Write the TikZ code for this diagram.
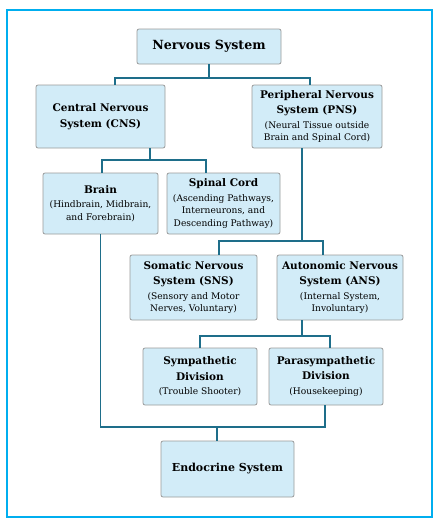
\documentclass[tikz,border=0pt]{standalone}
\usepackage{fontspec}
\setmainfont{DejaVu Serif}
\definecolor{frame}{HTML}{00AEEF}
\definecolor{conncol}{HTML}{1E6E8A}
\definecolor{boxfill}{HTML}{D2ECF8}
\definecolor{boxline}{HTML}{9A9A9A}
\newcommand{\ttl}{\fontsize{10.5}{12.3}\selectfont\bfseries}
\newcommand{\bigttl}{\fontsize{12.6}{14}\selectfont\bfseries}
\newcommand{\subt}{\fontsize{9.1}{12.3}\selectfont}
\tikzset{
  box/.style={draw=boxline, fill=boxfill, rounded corners=2pt, line width=0.8pt,
    inner sep=0pt, align=center, anchor=center, font=\fontsize{9.1}{12.3}\selectfont},
  conn/.style={draw=conncol, line width=1.6pt},
}
\begin{document}
\begin{tikzpicture}[x=1pt,y=-1pt]
\useasboundingbox (0,0) rectangle (439,525);
\draw[frame, line width=2pt] (7,10) rectangle (432,517);

\node[box, minimum width=144pt, minimum height=35pt] (NS) at (209,46.5) {\bigttl Nervous System};
\node[box, minimum width=129pt, minimum height=63pt] (CNS) at (100.5,116.5) {\ttl Central Nervous\\[3.3pt]\ttl System (CNS)};
\node[box, minimum width=130pt, minimum height=63pt] (PNS) at (317,116.5) {\ttl Peripheral Nervous\\[3.3pt]\ttl System (PNS)\\[2.4pt]\subt (Neural Tissue outside\\\subt Brain and Spinal Cord)};
\node[box, minimum width=115pt, minimum height=61pt] (Brain) at (100.5,203.5) {\ttl Brain\\[2.4pt]\subt (Hindbrain, Midbrain,\\\subt and Forebrain)};
\node[box, minimum width=113pt, minimum height=61pt] (Spinal) at (223.5,203.5) {\ttl Spinal Cord\\[2.4pt]\subt (Ascending Pathways,\\\subt Interneurons, and\\\subt Descending Pathway)};
\node[box, minimum width=127pt, minimum height=65pt] (SNS) at (193.5,287.5) {\ttl Somatic Nervous\\[3.3pt]\ttl System (SNS)\\[2.4pt]\subt (Sensory and Motor\\\subt Nerves, Voluntary)};
\node[box, minimum width=126pt, minimum height=65pt] (ANS) at (340,287.5) {\ttl Autonomic Nervous\\[3.3pt]\ttl System (ANS)\\[2.4pt]\subt (Internal System,\\\subt Involuntary)};
\node[box, minimum width=114pt, minimum height=57pt] (Symp) at (200,376.5) {\ttl Sympathetic\\[3.3pt]\ttl Division\\[2.4pt]\subt (Trouble Shooter)};
\node[box, minimum width=114pt, minimum height=57pt] (Para) at (326,376.5) {\ttl Parasympathetic\\[3.3pt]\ttl Division\\[2.4pt]\subt (Housekeeping)};
\node[box, minimum width=133pt, minimum height=56pt] (Endo) at (227.5,469) {\fontsize{11}{13}\selectfont\bfseries Endocrine System};

\coordinate (j1) at (209,78);
\coordinate (j2) at (150,160);
\coordinate (j3) at (302,241);
\coordinate (j4) at (302,336);
\coordinate (j5) at (217,427);

\draw[conn] (NS.south) -- (j1);
\draw[conn] (j1) -| ([xshift=14.5pt]CNS.north);
\draw[conn] (j1) -| ([xshift=-7pt]PNS.north);

\draw[conn] ([xshift=49.5pt]CNS.south) -- (j2);
\draw[conn] (j2) -| ([xshift=1.5pt]Brain.north);
\draw[conn] (j2) -| ([xshift=-17.5pt]Spinal.north);

\draw[conn] ([xshift=-15pt]PNS.south) -- (j3);
\draw[conn] (j3) -| ([xshift=25.5pt]SNS.north);
\draw[conn] (j3) -| ([xshift=-17pt]ANS.north);

\draw[conn] ([xshift=-38pt]ANS.south) -- (j4);
\draw[conn] (j4) -| (Symp.north);
\draw[conn] (j4) -| ([xshift=4pt]Para.north);

\draw[conn] (Brain.south) |- (j5);
\draw[conn] ([xshift=-1pt]Para.south) |- (j5);
\draw[conn] (j5) -- ([xshift=-10.5pt]Endo.north);
\end{tikzpicture}
\end{document}
